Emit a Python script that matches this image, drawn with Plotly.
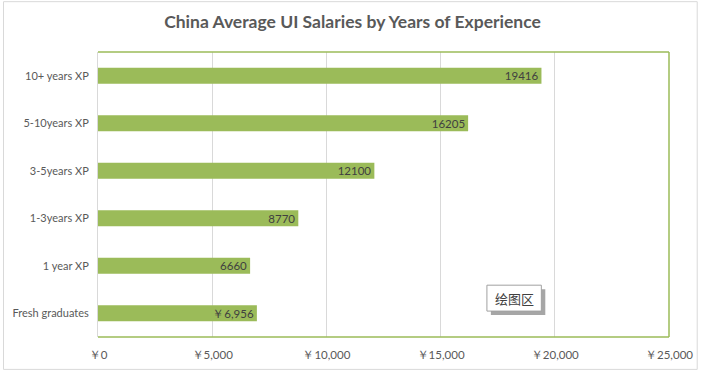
import plotly.graph_objects as go

categories = ["Fresh graduates", "1 year XP", "1-3years XP", "3-5years XP", "5-10years XP", "10+ years XP"]
salaries = [6956, 6660, 8770, 12100, 16205, 19416]
bar_labels = ["￥6,956", "6660", "8770", "12100", "16205", "19416"]
tick_values = [0, 5000, 10000, 15000, 20000, 25000]
tick_labels = ["￥0", "￥5,000", "￥10,000", "￥15,000", "￥20,000", "￥25,000"]
title_text = "China Average UI Salaries by Years of Experience"
tooltip_text = "绘图区"

FONT = "Lato, Carlito, 'Liberation Sans', sans-serif"
GREEN = "#9BBB59"
TXT = "#595959"

W, H = 705, 373
PL, PR, PT, PB = 97, 674, 52, 338
L, T, R, B = PL, PT, W - PR, H - PB
pw, ph = PR - PL, PB - PT

def px_x(x):
    return (x - PL) / pw

def px_y(y):
    return (PB - y) / ph

fig = go.Figure()
fig.add_trace(go.Bar(
    y=categories, x=salaries, orientation="h",
    marker=dict(color=GREEN, line=dict(width=0)),
    width=0.34,
    text=bar_labels, textposition="inside", insidetextanchor="end",
    constraintext="none",
    textfont=dict(family=FONT, size=11.5, color="#404040"),
    hoverinfo="skip",
))

shapes = [
    # outer chart border
    dict(type="rect", xref="paper", yref="paper", x0=px_x(1.5), x1=px_x(702.5), y0=px_y(370.5), y1=px_y(1.5),
         line=dict(color="#D9D9D9", width=1), layer="below"),
    # plot area border (top, right, bottom green)
    dict(type="line", xref="paper", yref="paper", x0=0, x1=1, y0=1, y1=1, line=dict(color=GREEN, width=1.5)),
    dict(type="line", xref="paper", yref="paper", x0=1, x1=1, y0=0, y1=1, line=dict(color=GREEN, width=1.5)),
    dict(type="line", xref="paper", yref="paper", x0=0, x1=1, y0=0, y1=0, line=dict(color=GREEN, width=1.5)),
    # tooltip shadow
    dict(type="rect", xref="paper", yref="paper", x0=px_x(494), x1=px_x(549), y0=px_y(316), y1=px_y(290),
         fillcolor="#A6A6A6", line=dict(width=0)),
    dict(type="rect", xref="paper", yref="paper", x0=px_x(490), x1=px_x(545), y0=px_y(312), y1=px_y(286),
         fillcolor="white", line=dict(color="#A0A0A0", width=1)),
]

fig.update_layout(
    width=W, height=H,
    margin=dict(l=L, r=R, t=T, b=B, pad=0),
    paper_bgcolor="white", plot_bgcolor="white",
    title=dict(text="<b>" + title_text + "</b>", x=0.5, xanchor="center", y=1 - 22 / H, yanchor="middle",
               font=dict(family=FONT, size=17.5, color=TXT)),
    xaxis=dict(range=[0, 25000], tickvals=tick_values, ticktext=tick_labels,
               showgrid=True, gridcolor="#D9D9D9", gridwidth=1, zeroline=False,
               showline=False, ticks="", ticklabelstandoff=9,
               tickfont=dict(family=FONT, size=11.5, color=TXT),
               fixedrange=True),
    yaxis=dict(showgrid=False, showline=True, linecolor="#D9D9D9", linewidth=1,
               ticks="", ticklabelstandoff=6, tickfont=dict(family=FONT, size=11, color=TXT),
               range=[-0.5, 5.5], fixedrange=True),
    showlegend=False,
    shapes=shapes,
    annotations=[dict(text=tooltip_text, xref="paper", yref="paper", x=px_x(517.5), y=px_y(299),
                      showarrow=False, font=dict(family="'Noto Sans CJK SC', sans-serif", size=13, color="#404040"),
                      xanchor="center", yanchor="middle")],
)

fig.write_html("out.html", config={"displayModeBar": False},
               post_script="document.body.style.margin='0';document.body.style.overflow='hidden';")
